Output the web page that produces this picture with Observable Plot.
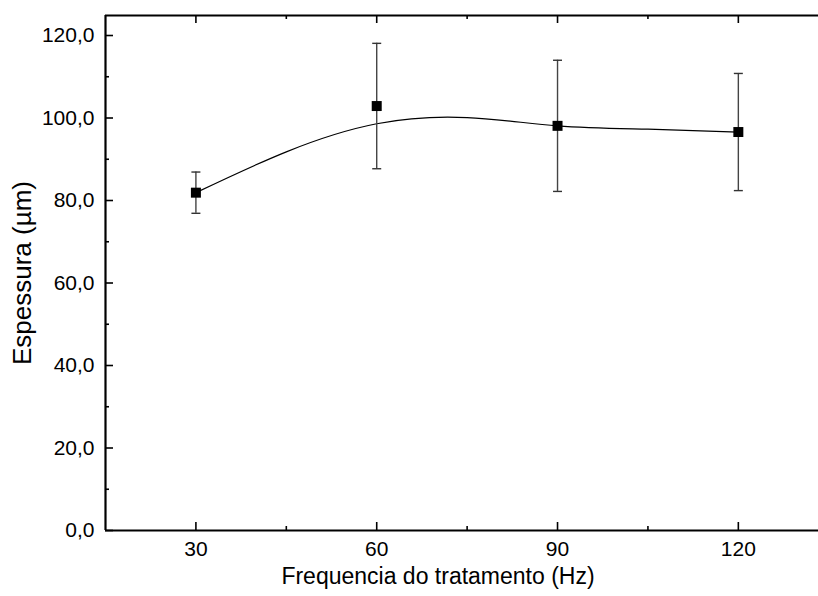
<!DOCTYPE html>
<html>
<head>
<meta charset="utf-8">
<script src="https://cdn.jsdelivr.net/npm/d3@7"></script>
<script src="https://cdn.jsdelivr.net/npm/@observablehq/plot@0.6"></script>
<style>
  html, body { margin: 0; padding: 0; background: #fff; }
  #chart { width: 818px; height: 596px; }
</style>
</head>
<body>
<div id="chart"></div>
<script>
// ---- data ----
const freqs = [30, 60, 90, 120];
const means = [81.9, 102.9, 98.1, 96.6];
const errs  = [5.0, 15.2, 15.9, 14.2];

// smooth fitted curve drawn through the points
const fitX = [30, 45, 60, 75, 90, 105, 120];
const fitY = [81.9, 91.8, 98.6, 100.1, 98.1, 97.3, 96.6];

const xMajor = [30, 60, 90, 120];
const xMinor = [45, 75, 105];
const yMajor = [0, 20, 40, 60, 80, 100, 120];
const yMinor = [10, 30, 50, 70, 90, 110];

const xDomain = [15, 133.3];
const yDomain = [0, 124.85];

const xTitle = "Frequencia do tratamento (Hz)";
const yTitle = "Espessura (µm)";

// ---- layout ----
const W = 818, H = 596;
const mL = 105, mT = 15, mB = 66, mR = 0;
const plotW = W - mL - mR, plotH = H - mT - mB;

const points = freqs.map((f, i) => ({x: f, y: means[i], e: errs[i]}));
const fit = fitX.map((x, i) => ({x, y: fitY[i]}));

const capSymbol = {
  draw(ctx) { ctx.moveTo(-4.5, 0); ctx.lineTo(4.5, 0); }
};
const fmt = d => d.toFixed(1).replace(".", ",");

const chart = Plot.plot({
  width: W, height: H,
  marginLeft: mL, marginTop: mT, marginBottom: mB, marginRight: mR,
  style: {fontFamily: "'Liberation Sans', Arial, sans-serif", background: "#fff", color: "#000"},
  x: {domain: xDomain, axis: null},
  y: {domain: yDomain, axis: null},
  marks: [
    // tick labels
    Plot.axisX({ticks: xMajor, tickSize: 0, tickPadding: 11, fontSize: 21, tickFormat: d => String(d), label: null}),
    Plot.axisY({ticks: yMajor, tickSize: 0, tickPadding: 11, fontSize: 21, tickFormat: fmt, label: null}),
    // inward ticks, bottom
    Plot.tickX(xMajor, {x: d => d, insetTop: plotH - 8, stroke: "#000", strokeWidth: 1.6}),
    Plot.tickX(xMinor, {x: d => d, insetTop: plotH - 4, stroke: "#000", strokeWidth: 1.6}),
    // inward ticks, top
    Plot.tickX(xMajor, {x: d => d, insetBottom: plotH - 8, stroke: "#000", strokeWidth: 1.6}),
    Plot.tickX(xMinor, {x: d => d, insetBottom: plotH - 4, stroke: "#000", strokeWidth: 1.6}),
    // inward ticks, left
    Plot.tickY(yMajor, {y: d => d, insetRight: plotW - 8, stroke: "#000", strokeWidth: 1.6}),
    Plot.tickY(yMinor, {y: d => d, insetRight: plotW - 4, stroke: "#000", strokeWidth: 1.6}),
    // frame lines
    Plot.ruleY([yDomain[0]], {stroke: "#000", strokeWidth: 2.2}),
    Plot.ruleY([yDomain[1]], {stroke: "#000", strokeWidth: 2.2}),
    Plot.ruleX([xDomain[0]], {stroke: "#000", strokeWidth: 2.2}),
    // fitted curve
    Plot.line(fit, {x: "x", y: "y", curve: "natural", stroke: "#000", strokeWidth: 1.2}),
    // error bars
    Plot.ruleX(points, {x: "x", y1: d => d.y - d.e, y2: d => d.y + d.e, stroke: "#444", strokeWidth: 1.4}),
    Plot.dot(points, {x: "x", y: d => d.y + d.e, symbol: capSymbol, stroke: "#333", strokeWidth: 1.4, fill: "none"}),
    Plot.dot(points, {x: "x", y: d => d.y - d.e, symbol: capSymbol, stroke: "#333", strokeWidth: 1.4, fill: "none"}),
    // markers
    Plot.dot(points, {x: "x", y: "y", symbol: "square", r: 5.64, fill: "#000", stroke: "none"}),
    // axis titles
    Plot.text([xTitle], {text: d => d, frameAnchor: "bottom", dy: 37, dx: -24, lineAnchor: "top", fontSize: 23, fill: "#000"}),
    Plot.text([yTitle], {text: d => d, frameAnchor: "left", dx: -83, rotate: -90, textAnchor: "middle", lineAnchor: "middle", fontSize: 26, fill: "#000"})
  ]
});

document.getElementById("chart").appendChild(chart);
</script>
</body>
</html>
